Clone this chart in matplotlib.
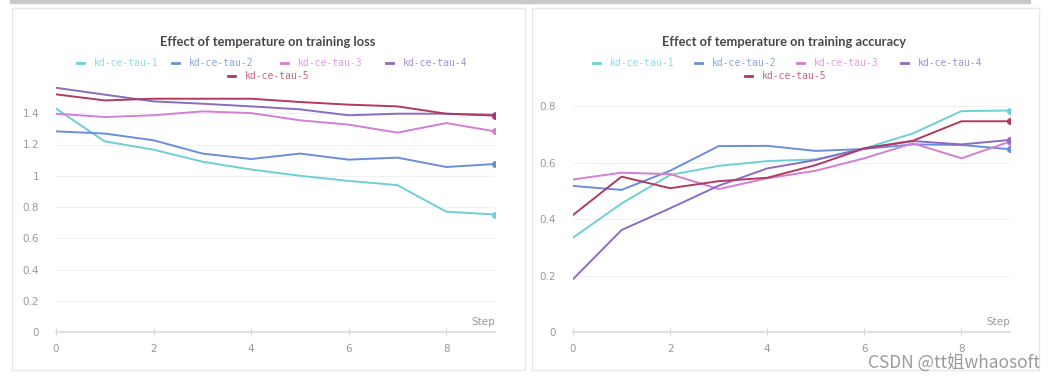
import numpy as np
import matplotlib.pyplot as plt
from matplotlib.patches import Rectangle
from matplotlib.lines import Line2D

# --- data ---
steps = list(range(10))
run_names = ['kd-ce-tau-1', 'kd-ce-tau-2', 'kd-ce-tau-3', 'kd-ce-tau-4', 'kd-ce-tau-5']

loss_tau1 = [1.43, 1.22, 1.167, 1.09, 1.04, 1.0, 0.967, 0.94, 0.77, 0.752]
loss_tau2 = [1.284, 1.27, 1.227, 1.142, 1.107, 1.142, 1.103, 1.116, 1.056, 1.075]
loss_tau3 = [1.397, 1.376, 1.387, 1.412, 1.401, 1.355, 1.327, 1.276, 1.337, 1.284]
loss_tau4 = [1.563, 1.519, 1.476, 1.461, 1.444, 1.425, 1.387, 1.397, 1.397, 1.39]
loss_tau5 = [1.521, 1.482, 1.493, 1.493, 1.493, 1.472, 1.455, 1.444, 1.397, 1.385]

acc_tau1 = [0.334, 0.455, 0.556, 0.588, 0.605, 0.611, 0.650, 0.703, 0.782, 0.784]
acc_tau2 = [0.517, 0.503, 0.571, 0.658, 0.659, 0.641, 0.648, 0.664, 0.662, 0.647]
acc_tau3 = [0.540, 0.564, 0.559, 0.506, 0.544, 0.571, 0.615, 0.668, 0.615, 0.674]
acc_tau4 = [0.187, 0.361, 0.438, 0.518, 0.579, 0.609, 0.650, 0.676, 0.664, 0.680]
acc_tau5 = [0.414, 0.550, 0.509, 0.534, 0.546, 0.591, 0.650, 0.677, 0.746, 0.746]

loss_ticks = [0, 0.2, 0.4, 0.6, 0.8, 1, 1.2, 1.4]
loss_labels = ['0', '0.2', '0.4', '0.6', '0.8', '1', '1.2', '1.4']
acc_ticks = [0, 0.2, 0.4, 0.6, 0.8]
acc_labels = ['0', '0.2', '0.4', '0.6', '0.8']
x_ticks = [0, 2, 4, 6, 8]

COLORS = ['#6dd0d6', '#6c8ed8', '#d27fd4', '#8a6cc0', '#b2395f']
TEXT_COLORS = ['#8fdbe0', '#8aa6e0', '#df9fe0', '#a590d0', '#c8667f']
GRAY = '#9a9a9a'

fig = plt.figure(figsize=(10.62, 3.82), dpi=100)

# panel frames + top bar
fig.patches.append(Rectangle((10 / 1062, 1 - 3 / 382), 1020 / 1062, 3 / 382,
                             transform=fig.transFigure, color='#c8c8c8', zorder=0))
for x0, x1 in [(12, 525), (532, 1039)]:
    fig.patches.append(Rectangle((x0 / 1062, 1 - 370 / 382), (x1 - x0) / 1062, 362 / 382,
                                 transform=fig.transFigure, fill=False,
                                 edgecolor='#e8e8e8', lw=1, zorder=0))


def panel(rect, series, ticks, labels, ylim, title, title_x, legend_x):
    ax = fig.add_axes(rect)
    for vals, c in zip(series, COLORS):
        ax.plot(steps, vals, color=c, lw=1.4, solid_capstyle='round')
        ax.plot(steps[-1], vals[-1], 'o', color=c, ms=4)
    ax.set_xlim(0, 9)
    ax.set_ylim(*ylim)
    ax.set_yticks(ticks)
    ax.set_yticklabels(labels)
    ax.set_xticks(x_ticks)
    for t in ticks[1:]:
        ax.axhline(t, color='#f1f1f1', lw=0.8, zorder=0)
    for s in ['top', 'right', 'left']:
        ax.spines[s].set_visible(False)
    ax.spines['bottom'].set_color('#dcdcdc')
    ax.spines['bottom'].set_linewidth(1.2)
    ax.tick_params(axis='y', length=0, pad=12, labelsize=7.5, labelcolor=GRAY)
    ax.tick_params(axis='x', direction='inout', length=6, color='#dcdcdc',
                   pad=6, labelsize=7.5, labelcolor=GRAY)
    ax.text(1.0, 0.02, 'Step', transform=ax.transAxes, ha='right', va='bottom',
            fontsize=7.5, color=GRAY)
    ax.set_facecolor('none')

    fig.text(title_x / 1062, 1 - 42 / 382, title, ha='center', va='center',
             fontsize=9.3, fontweight='bold', color='#484848', family='Lato')
    # legend: four on the first row, one centred below
    for i, name in enumerate(run_names):
        lx, ly = legend_x[i]
        fig.add_artist(Line2D([(lx - 5) / 1062, (lx + 2) / 1062],
                              [1 - ly / 382, 1 - ly / 382],
                              color=COLORS[i], lw=2, transform=fig.transFigure))
        fig.text((lx + 12) / 1062, 1 - ly / 382, name, ha='left', va='center',
                 fontsize=7, family='DejaVu Sans Mono', color=TEXT_COLORS[i])
    return ax


loss_series = [loss_tau1, loss_tau2, loss_tau3, loss_tau4, loss_tau5]
acc_series = [acc_tau1, acc_tau2, acc_tau3, acc_tau4, acc_tau5]

panel([56 / 1062, 1 - 332 / 382, 439 / 1062, 250 / 382],
      loss_series, loss_ticks, loss_labels, (0, 1.6),
      'Effect of temperature on training loss', 268,
      [(82, 63), (177, 63), (286, 63), (391, 63), (233, 76)])

panel([573 / 1062, 1 - 332 / 382, 437 / 1062, 250 / 382],
      acc_series, acc_ticks, acc_labels, (0, 0.885),
      'Effect of temperature on training accuracy', 784,
      [(598, 63), (700, 63), (802, 63), (906, 63), (750, 76)])

fig.text(1040 / 1062, 1 - 363 / 382, 'CSDN @tt姐whaosoft', ha='right', va='center',
         fontsize=12.5, color='#9a9a9a', family=['Noto Sans CJK SC', 'DejaVu Sans'])

plt.savefig('out.png', dpi=100)
